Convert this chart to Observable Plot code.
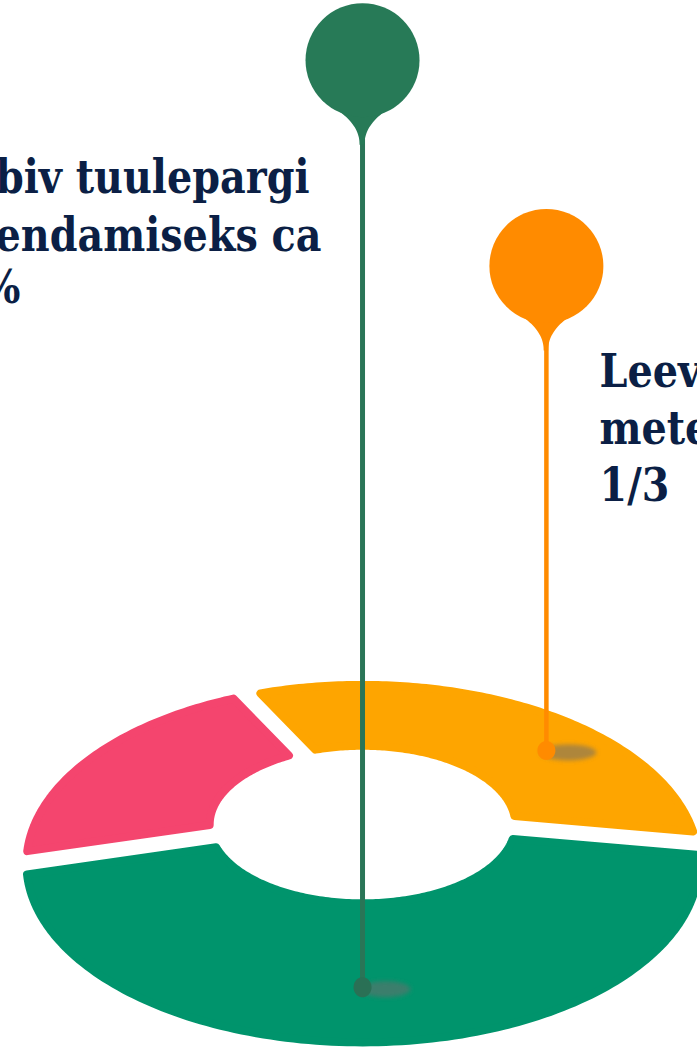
<!DOCTYPE html>
<html><head><meta charset="utf-8">
<script src="https://cdn.jsdelivr.net/npm/d3@7"></script>
<script src="https://cdn.jsdelivr.net/npm/@observablehq/plot@0.6"></script>
<style>html,body{margin:0;padding:0;background:#fff;overflow:hidden}</style>
</head><body><div id="chart"></div>
<script>
// ---- data ----
const segments = ["Leevendusmeetmed", "Tuulepargi arendamine", "Muu"];
const shares = [35, 43, 22];
const pinned = ["Tuulepargi arendamine", "Leevendusmeetmed"];
const labelGreen = ["biv tuulepargi", "endamiseks ca", "%"];
const labelOrange = ["Leev", "mete", "1/3"];

// ---- layout / styles ----
const W = 697, H = 1048;
const CX = 362, CY = 813.9, AX = 328, BY = 167.7, P = 0.2797;
const START = -26.5;
const STROKE = 8, R_OUT = 0.985, R_IN = 0.462, HALF_GAP = 7.5 + STROKE / 2;
const segColors = ["#fea500", "#00946c", "#f4456e"];
const ink = "#0b1f45";
const SHADOW = "#6c6c6c";
const FS = 46;
const rad = d => d * Math.PI / 180;
function project(th, r) {
  const X = r * Math.sin(rad(th)), Y = -r * Math.cos(rad(th));
  const w = 1 - P * Y;
  return {u: X / w, v: Y / w};
}
const px = p => [CX + AX * p.u, CY + BY * p.v];
const ux = x => (x - CX) / AX, vy = y => (y - CY) / BY;
function gapDeg(th, r) {
  const a = px(project(th, r + 0.01)), b = px(project(th, r - 0.01));
  let dx = a[0] - b[0], dy = a[1] - b[1];
  const L = Math.hypot(dx, dy); dx /= L; dy /= L;
  const c = px(project(th + 0.5, r)), o = px(project(th, r));
  const tx = (c[0] - o[0]) / 0.5, ty = (c[1] - o[1]) / 0.5;
  return HALF_GAP / Math.abs(tx * dy - ty * dx);
}
const total = d3.sum(shares);
let acc = START;
const ring = [], spans = {};
segments.forEach((s, i) => {
  const a0 = acc, a1 = acc + shares[i] / total * 360; acc = a1;
  spans[s] = [a0, a1];
  const o0 = a0 + gapDeg(a0, R_OUT), o1 = a1 - gapDeg(a1, R_OUT);
  const i0 = a0 + gapDeg(a0, R_IN), i1 = a1 - gapDeg(a1, R_IN);
  const n = Math.ceil(o1 - o0);
  for (let k = 0; k <= n; k++) ring.push({seg: s, ...project(o0 + (o1 - o0) * k / n, R_OUT)});
  const m = Math.ceil(i1 - i0);
  for (let k = m; k >= 0; k--) ring.push({seg: s, ...project(i0 + (i1 - i0) * k / m, R_IN)});
});

// pins (layout in code)
const pinLayout = {
  "Tuulepargi arendamine": {t: 0.52, r: 0.80, top: 59.7, R: 57, color: "#277a57", stem: "#2a7557", stemW: 5, dot: "#2a7055", rx: 9, ry: 10, shx: 23, shrx: 25},
  "Leevendusmeetmed": {t: 0.653, r: 0.759, top: 265.5, R: 57, color: "#ff8b00", stem: "#ff8b00", stemW: 4.5, dot: "#ff8b00", rx: 9, ry: 9.5, shx: 22, shrx: 28}
};
const shadows = [], bases = [], necks = [], stems = [], heads = [];
pinned.forEach(s => {
  const L = pinLayout[s], [a0, a1] = spans[s];
  const [bx, by] = px(project(a0 + L.t * (a1 - a0), L.r));
  for (let k = 0; k < 48; k++) {
    const t = k / 48 * 2 * Math.PI;
    shadows.push({pin: s, u: ux(bx + L.shx + L.shrx * Math.cos(t)), v: vy(by + 2 + 8 * Math.sin(t))});
    bases.push({pin: s, u: ux(bx + L.rx * Math.cos(t)), v: vy(by + L.ry * Math.sin(t))});
  }
  stems.push({pin: s, x1: ux(bx), y1: vy(L.top + L.R), x2: ux(bx), y2: vy(by), color: L.stem, w: L.stemW});
  for (let k = 0; k <= 30; k++) {
    const tt = k / 30;
    const y = L.top + 0.72 * L.R + tt * (0.28 * L.R + 28);
    const hw = L.stemW / 2 + (0.694 * L.R - L.stemW / 2) * Math.pow(1 - tt, 2.2);
    necks.push({pin: s, v: vy(y), u1: ux(bx - hw), u2: ux(bx + hw), color: L.color});
  }
  heads.push({pin: s, u: ux(bx), v: vy(L.top), color: L.color, R: L.R});
});

const greenEnds = [309, 321, 20], greenBase = [192, 250, 302];
const orangeStart = 599, orangeBase = [386, 443, 500];
const textOpts = {lineAnchor: "bottom", fontSize: FS, fontWeight: "bold", fontFamily: "DejaVu Serif", fill: ink};

const svg = Plot.plot({
  width: W, height: H, margin: 0,
  x: {domain: [ux(0), ux(W)], axis: null},
  y: {domain: [vy(H), vy(0)], axis: null},
  color: {domain: segments, range: segColors},
  style: {background: "white", overflow: "hidden"},
  marks: [
    Plot.line(ring, {x: "u", y: "v", z: "seg", fill: "seg", stroke: "seg", strokeWidth: STROKE, strokeLinejoin: "round", curve: "linear-closed"}),
    Plot.line(shadows, {x: "u", y: "v", z: "pin", fill: () => SHADOW, fillOpacity: 0.55, stroke: null, curve: "linear-closed"}),
    Plot.link(stems, {x1: "x1", y1: "y1", x2: "x2", y2: "y2", stroke: d => d.color, strokeWidth: d => d.w}),
    Plot.line(bases, {x: "u", y: "v", z: "pin", fill: d => pinLayout[d.pin].dot, stroke: null, curve: "linear-closed"}),
    Plot.areaX(necks, {y: "v", x1: "u1", x2: "u2", z: "pin", fill: d => d.color}),
    Plot.dot(heads, {x: "u", y: "v", r: 57, fill: d => d.color, stroke: null}),
    Plot.text(labelGreen, {...textOpts, x: (d, i) => ux(greenEnds[i]), y: (d, i) => vy(greenBase[i]), text: d => d, textAnchor: "end"}),
    Plot.text(labelOrange, {...textOpts, x: () => ux(orangeStart), y: (d, i) => vy(orangeBase[i]), text: d => d, textAnchor: "start"})
  ]
});
const defs = d3.select(svg).insert("defs", ":first-child");
defs.append("filter").attr("id", "pinblur").attr("x", "-50%").attr("y", "-100%").attr("width", "200%").attr("height", "300%")
  .append("feGaussianBlur").attr("stdDeviation", 2);
d3.select(svg).selectAll("path").filter(function () {
  const f = (this.getAttribute("fill") || "").toLowerCase();
  return f === SHADOW;
}).attr("filter", "url(#pinblur)");
document.getElementById("chart").appendChild(svg);
// compress glyphs horizontally so that "endamiseks ca" spans the reference width
const labels = new Set([...labelGreen, ...labelOrange]);
const texts = d3.select(svg).selectAll("text").nodes().filter(t => labels.has(t.textContent));
const ref = texts.find(t => t.textContent === "endamiseks ca");
const k = ref ? 326 / ref.getComputedTextLength() : 1;
texts.forEach(t => {
  const w = t.getComputedTextLength();
  t.setAttribute("textLength", (w * k).toFixed(1));
  t.setAttribute("lengthAdjust", "spacingAndGlyphs");
});
</script></body></html>
